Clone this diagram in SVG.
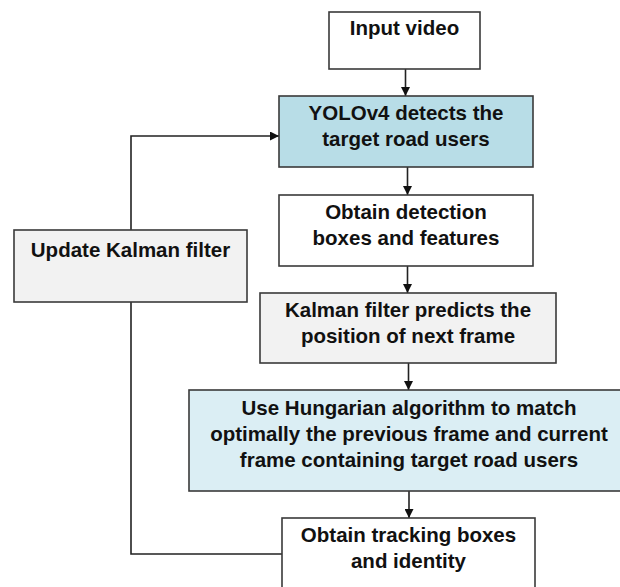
<svg xmlns="http://www.w3.org/2000/svg" width="620" height="587" viewBox="0 0 620 587">
<style>
.box{stroke:#3a3a3a;stroke-width:1.6}
.w{fill:#ffffff}
.b1{fill:#b8dde7}
.b2{fill:#dbeef4}
.g{fill:#f2f2f2}
text{font-family:"Liberation Sans",Arial,sans-serif;font-weight:bold;font-size:20.5px;fill:#111;text-anchor:middle}
.c{fill:none;stroke:#222;stroke-width:1.6}
</style>
<defs>
<marker id="ah" viewBox="0 0 10 10" refX="10" refY="5" markerWidth="9" markerHeight="9" markerUnits="userSpaceOnUse" orient="auto">
<path d="M0,0 L10,5 L0,10 z" fill="#111"/>
</marker>
</defs>
<rect width="620" height="587" fill="#ffffff"/>
<g id="connectors">
<line class="c" x1="405.5" y1="69" x2="405.5" y2="96" marker-end="url(#ah)"/>
<line class="c" x1="407.5" y1="167" x2="407.5" y2="195" marker-end="url(#ah)"/>
<line class="c" x1="407.5" y1="266" x2="407.5" y2="293" marker-end="url(#ah)"/>
<line class="c" x1="408.5" y1="363" x2="408.5" y2="390" marker-end="url(#ah)"/>
<line class="c" x1="409" y1="491" x2="409" y2="518" marker-end="url(#ah)"/>
<polyline class="c" points="282,554 131,554 131,302"/>
<polyline class="c" points="131,230 131,136 279,136" marker-end="url(#ah)"/>
</g>
<g id="input-video">
<rect class="box w" x="329" y="12" width="151" height="57"/>
<text x="404.5" y="35">Input video</text>
</g>
<g id="yolo">
<rect class="box b1" x="279" y="96" width="254" height="71"/>
<text x="406" y="120">YOLOv4 detects the</text>
<text x="406" y="146">target road users</text>
</g>
<g id="obtain-detection">
<rect class="box w" x="279" y="195" width="254" height="71"/>
<text x="406" y="219">Obtain detection</text>
<text x="406" y="245">boxes and features</text>
</g>
<g id="update-kalman">
<rect class="box g" x="14" y="230" width="233" height="72"/>
<text x="130.5" y="257">Update Kalman filter</text>
</g>
<g id="kalman-predict">
<rect class="box g" x="260" y="293" width="296" height="70"/>
<text x="408" y="317">Kalman filter predicts the</text>
<text x="408" y="343">position of next frame</text>
</g>
<g id="hungarian">
<rect class="box b2" x="189" y="390" width="440" height="101"/>
<text x="409" y="415">Use Hungarian algorithm to match</text>
<text x="409" y="441">optimally the previous frame and current</text>
<text x="409" y="467">frame containing target road users</text>
</g>
<g id="tracking">
<rect class="box w" x="282" y="518" width="253" height="90"/>
<text x="408.5" y="542">Obtain tracking boxes</text>
<text x="408.5" y="568">and identity</text>
</g>
</svg>
